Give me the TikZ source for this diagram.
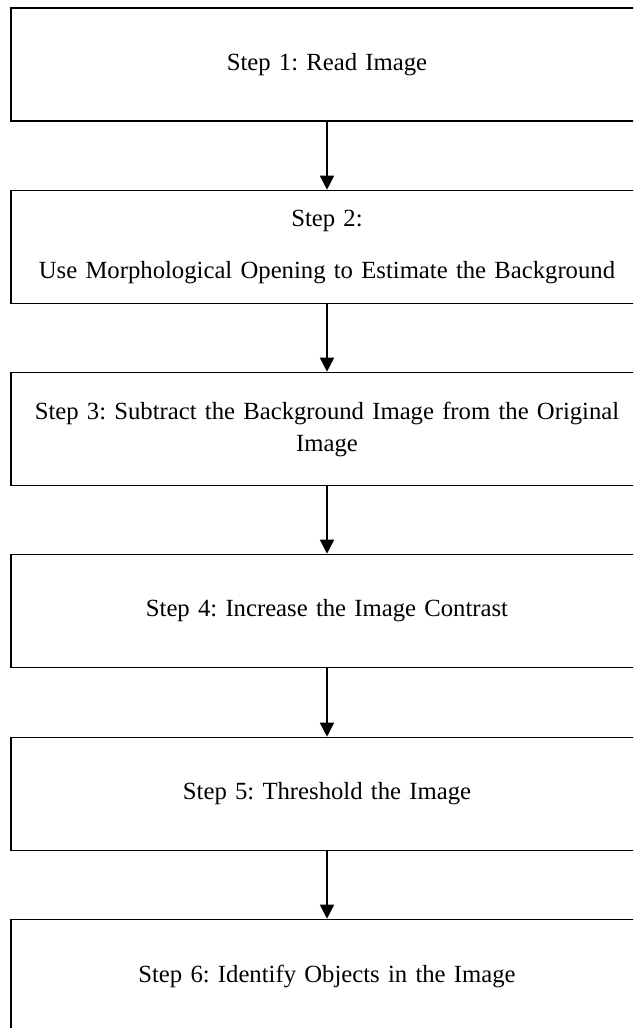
\documentclass[tikz,border=0pt]{standalone}
\usepackage{fontspec}
\setmainfont{Liberation Serif}
\usetikzlibrary{arrows.meta}
\frenchspacing
\tikzset{
  stepbox/.style={draw=black, line width=1.6pt, minimum width=632pt, minimum height=113pt,
    inner sep=0pt, text width=610pt, align=center, font=\fontsize{24.7}{32}\selectfont\frenchspacing},
  flow/.style={draw=black, line width=1.6pt, -{Triangle[width=14pt,length=14pt]}}
}
\begin{document}
\begin{tikzpicture}[x=1pt,y=-1pt]
\useasboundingbox (0,0) rectangle (633,1028);
\clip (0,0) rectangle (633,1028);
\node[stepbox] (s1) at (327,64.5) {Step 1: Read Image};
\node[stepbox] (s2) at (327,247) {Step 2:\\[20pt]Use Morphological Opening to Estimate the Background};
\node[stepbox] (s3) at (327,429) {Step 3: Subtract the Background Image from the Original\\Image};
\node[stepbox] (s4) at (327,611) {Step 4: Increase the Image Contrast};
\node[stepbox] (s5) at (327,794) {Step 5: Threshold the Image};
\node[stepbox] (s6) at (327,976) {Step 6: Identify Objects in the Image};
\draw[flow] (s1.south) -- (s2.north);
\draw[flow] (s2.south) -- (s3.north);
\draw[flow] (s3.south) -- (s4.north);
\draw[flow] (s4.south) -- (s5.north);
\draw[flow] (s5.south) -- (s6.north);
\end{tikzpicture}
\end{document}
